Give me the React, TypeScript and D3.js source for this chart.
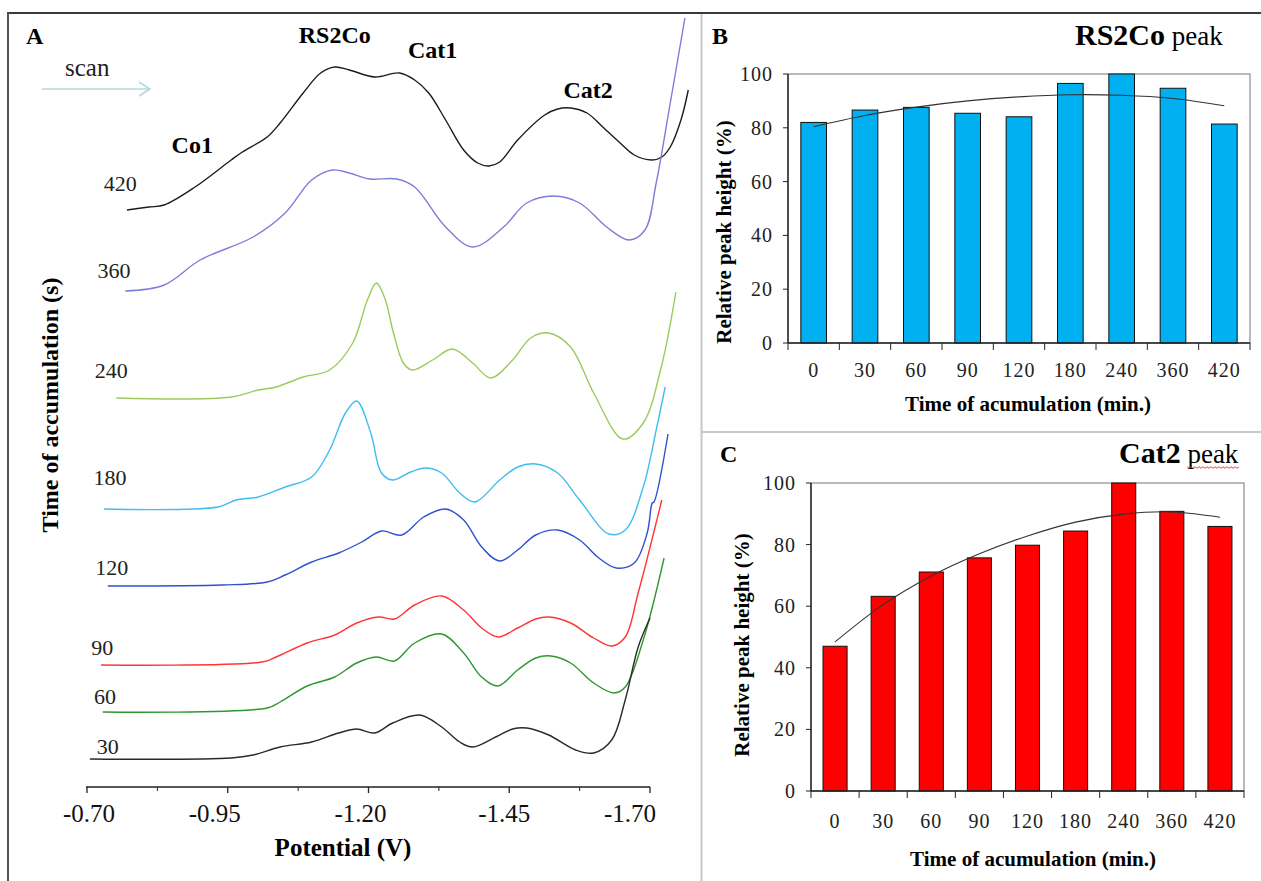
import * as d3 from "d3";
import { useEffect, useRef } from "react";

const W = 1261;
const H = 881;
const serif = "'Liberation Serif', 'Times New Roman', serif";

// ---- panel A: stripping voltammograms, potential (V) vs current (a.u., stacked)
const potentialTicks = [-0.7, -0.95, -1.2, -1.45, -1.7];
const tickLabelShift = [2, -13, -8, -5, -20]; // labels sit a bit off their ticks in the original
const curveTimes = ["420", "360", "240", "180", "120", "90", "60", "30"];
const curveColors = ["#1c1c1c", "#7d7dd8", "#9acb5c", "#3fbdf0", "#2f50d0", "#ff3535", "#2f972f", "#2a2a2a"];

const c420 = [[-0.771, 577], [-0.81, 580], [-0.837, 582], [-0.892, 600], [-0.956, 627], [-0.976, 635], [-1.02, 650], [-1.043, 664], [-1.084, 694], [-1.115, 714], [-1.14, 720], [-1.166, 717], [-1.211, 710], [-1.255, 714], [-1.282, 707], [-1.307, 694], [-1.337, 667], [-1.369, 637], [-1.394, 624], [-1.414, 621], [-1.433, 625], [-1.465, 647], [-1.513, 672], [-1.536, 678], [-1.559, 679], [-1.588, 674], [-1.616, 660], [-1.647, 644], [-1.672, 632], [-1.704, 627], [-1.721, 630], [-1.736, 640], [-1.755, 667], [-1.768, 697]];
const c360 = [[-0.768, 496], [-0.837, 502], [-0.901, 527], [-0.995, 550], [-1.052, 574], [-1.099, 607], [-1.136, 617], [-1.166, 614], [-1.202, 608], [-1.25, 608], [-1.282, 600], [-1.337, 560], [-1.385, 540], [-1.44, 560], [-1.481, 584], [-1.529, 591], [-1.575, 584], [-1.623, 560], [-1.663, 547], [-1.691, 557], [-1.711, 604], [-1.736, 684], [-1.762, 769]];
const c240 = [[-0.752, 389], [-0.956, 390], [-1.004, 397], [-1.036, 400], [-1.084, 410], [-1.131, 417], [-1.172, 444], [-1.198, 487], [-1.214, 504], [-1.23, 487], [-1.243, 457], [-1.262, 424], [-1.278, 417], [-1.314, 427], [-1.349, 438], [-1.385, 424], [-1.417, 409], [-1.456, 427], [-1.488, 449], [-1.52, 454], [-1.559, 440], [-1.6, 394], [-1.652, 348], [-1.688, 364], [-1.72, 420], [-1.746, 495]];
const c180 = [[-0.73, 278], [-0.933, 280], [-0.965, 287], [-1.004, 290], [-1.052, 300], [-1.099, 310], [-1.131, 337], [-1.159, 374], [-1.179, 386], [-1.204, 354], [-1.223, 314], [-1.243, 307], [-1.275, 315], [-1.301, 319], [-1.33, 314], [-1.362, 294], [-1.389, 285], [-1.433, 307], [-1.465, 320], [-1.497, 323], [-1.536, 314], [-1.575, 287], [-1.627, 253], [-1.656, 257], [-1.688, 300], [-1.711, 357], [-1.727, 400]];
const c120 = [[-0.737, 201], [-0.94, 202], [-1.02, 205], [-1.052, 212], [-1.099, 225], [-1.147, 234], [-1.188, 245], [-1.223, 256], [-1.259, 252], [-1.298, 270], [-1.337, 278], [-1.369, 267], [-1.401, 240], [-1.433, 226], [-1.465, 237], [-1.497, 252], [-1.536, 257], [-1.575, 247], [-1.607, 230], [-1.64, 219], [-1.672, 224], [-1.695, 254], [-1.704, 284], [-1.707, 285], [-1.732, 353]];
const c90 = [[-0.725, 122], [-1.011, 125], [-1.036, 130], [-1.091, 144], [-1.14, 152], [-1.179, 164], [-1.218, 170], [-1.246, 168], [-1.282, 182], [-1.33, 191], [-1.369, 177], [-1.401, 159], [-1.43, 150], [-1.465, 159], [-1.497, 168], [-1.52, 170], [-1.559, 164], [-1.6, 149], [-1.632, 141], [-1.656, 150], [-1.679, 194], [-1.721, 287]];
const c60 = [[-0.728, 75], [-1.02, 79], [-1.043, 85], [-1.091, 101], [-1.14, 110], [-1.179, 124], [-1.214, 130], [-1.246, 126], [-1.282, 144], [-1.33, 153], [-1.369, 134], [-1.401, 110], [-1.43, 101], [-1.465, 117], [-1.497, 129], [-1.524, 131], [-1.559, 124], [-1.6, 104], [-1.636, 94], [-1.656, 100], [-1.688, 147], [-1.725, 229]];
const c30 = [[-0.705, 28], [-0.956, 29], [-0.995, 32], [-1.043, 40], [-1.099, 45], [-1.147, 54], [-1.179, 58], [-1.211, 54], [-1.243, 64], [-1.291, 72], [-1.33, 60], [-1.362, 45], [-1.385, 40], [-1.426, 50], [-1.456, 58], [-1.481, 59], [-1.52, 52], [-1.568, 37], [-1.6, 34], [-1.632, 47], [-1.656, 87], [-1.679, 140], [-1.7, 169]];
const curves = [c420, c360, c240, c180, c120, c90, c60, c30];

// where each time label sits, in the same units as the curves
const timeLabelAt = [[-0.759, 596], [-0.748, 509], [-0.743, 409], [-0.741, 302], [-0.744, 212], [-0.727, 132], [-0.732, 83], [-0.737, 33]];
const peakNames = ["RS2Co", "Cat1", "Cat2", "Co1"];
const peakLabelAt = [[-1.14, 744], [-1.314, 729], [-1.59, 689], [-0.887, 634]];

// ---- panels B and C: relative peak heights vs accumulation time
const accTimes = ["0", "30", "60", "90", "120", "180", "240", "360", "420"];
const rs2coHeight = [82, 86.6, 87.6, 85.4, 84.1, 96.5, 100, 94.7, 81.4];
const rs2coTrend = [80.4, 84.6, 87.7, 90.0, 91.5, 92.3, 92.1, 90.9, 88.2];
const cat2Height = [47.0, 63.2, 71.1, 75.7, 79.8, 84.4, 100, 90.8, 85.9];
const cat2Trend = [48.4, 60.5, 69.8, 77.0, 82.8, 87.3, 89.9, 90.6, 88.9];
const pctTicks = [0, 20, 40, 60, 80, 100];

const drawBarPanel = (svg, o) => {
  const x = d3.scaleBand().domain(accTimes).range([o.x0, o.x1]).paddingInner(0.5).paddingOuter(0.25);
  const y = d3.scaleLinear().domain([0, 100]).range([o.y0, o.y1]);
  const g = svg.append("g");

  // grey plot frame
  g.append("rect")
    .attr("x", o.x0).attr("y", o.y1)
    .attr("width", o.x1 - o.x0).attr("height", o.y0 - o.y1)
    .attr("fill", "none").attr("stroke", "#8c8c8c").attr("stroke-width", 1.2);

  g.selectAll("rect.bar")
    .data(o.values)
    .join("rect")
    .attr("class", "bar")
    .attr("x", (d, i) => x(accTimes[i]))
    .attr("y", (d) => y(d))
    .attr("width", x.bandwidth())
    .attr("height", (d) => o.y0 - y(d))
    .attr("fill", o.color)
    .attr("stroke", "#111")
    .attr("stroke-width", 1);

  const trend = d3.line()
    .x((d, i) => x(accTimes[i]) + x.bandwidth() / 2)
    .y((d) => y(d))
    .curve(d3.curveCatmullRom.alpha(0.5));
  g.append("path").attr("d", trend(o.trend)).attr("fill", "none").attr("stroke", "#333").attr("stroke-width", 1.1);

  // axes
  g.append("line").attr("x1", o.x0).attr("x2", o.x0).attr("y1", o.y1).attr("y2", o.y0).attr("stroke", "#222").attr("stroke-width", 1.4);
  g.append("line").attr("x1", o.x0).attr("x2", o.x1).attr("y1", o.y0).attr("y2", o.y0).attr("stroke", "#222").attr("stroke-width", 1.4);

  pctTicks.forEach((t) => {
    g.append("line").attr("x1", o.x0 - 5).attr("x2", o.x0).attr("y1", y(t)).attr("y2", y(t)).attr("stroke", "#222");
    g.append("text")
      .attr("x", o.x0 - 15).attr("y", y(t)).attr("dy", "0.35em")
      .attr("text-anchor", "end")
      .style("font-family", serif).style("font-size", "20px").style("letter-spacing", "1px")
      .attr("fill", "#222")
      .text(t);
  });

  const step = x.step();
  d3.range(accTimes.length + 1).forEach((i) => {
    const bx = o.x0 + i * step;
    g.append("line").attr("x1", bx).attr("x2", bx).attr("y1", o.y0).attr("y2", o.y0 + 7).attr("stroke", "#222");
  });
  accTimes.forEach((c) => {
    g.append("text")
      .attr("x", x(c) + x.bandwidth() / 2).attr("y", o.xLabelY)
      .attr("text-anchor", "middle")
      .style("font-family", serif).style("font-size", "20px").style("letter-spacing", "1px")
      .attr("fill", "#222")
      .text(c);
  });

  g.append("text")
    .attr("x", o.xTitle[0]).attr("y", o.xTitle[1])
    .attr("text-anchor", "middle")
    .style("font-family", serif).style("font-size", "21px").style("font-weight", "bold")
    .text("Time of acumulation (min.)");
  g.append("text")
    .attr("transform", `translate(${o.yTitle[0]},${o.yTitle[1]}) rotate(-90)`)
    .attr("text-anchor", "middle")
    .style("font-family", serif).style("font-size", "21px").style("font-weight", "bold")
    .text("Relative peak height (%)");

  // panel letter and title
  g.append("text")
    .attr("x", o.letter[0]).attr("y", o.letter[1])
    .style("font-family", serif).style("font-size", "24px").style("font-weight", "bold")
    .text(o.letterText);
  const title = g.append("text")
    .attr("x", o.title[0]).attr("y", o.title[1])
    .style("font-family", serif);
  title.append("tspan").style("font-size", "30px").style("font-weight", "bold").text(o.titleText);
  title.append("tspan").style("font-size", "27px").text(" peak");
};

const App = () => {
  const svgRef = useRef(null);

  useEffect(() => {
    const svg = d3.select(svgRef.current);
    svg.selectAll("*").remove();

    // figure frame and dividers
    svg.append("rect").attr("width", W).attr("height", H).attr("fill", "white");
    svg.append("line").attr("x1", 7).attr("x2", W).attr("y1", 13).attr("y2", 13).attr("stroke", "#3a3a3a").attr("stroke-width", 2);
    svg.append("line").attr("x1", 8).attr("x2", 8).attr("y1", 13).attr("y2", H).attr("stroke", "#555").attr("stroke-width", 2);
    svg.append("line").attr("x1", 701.5).attr("x2", 701.5).attr("y1", 14).attr("y2", H).attr("stroke", "#c8c8c8").attr("stroke-width", 2);
    svg.append("line").attr("x1", 702).attr("x2", W).attr("y1", 432).attr("y2", 432).attr("stroke", "#c8c8c8").attr("stroke-width", 2);

    // ---------- panel A
    const xA = d3.scaleLinear().domain([-0.7, -1.7]).range([87, 650]);
    const yA = d3.scaleLinear().domain([0, 775]).range([787, 12]);
    const gA = svg.append("g");

    const line = d3.line()
      .x((d) => xA(d[0]))
      .y((d) => yA(d[1]))
      .curve(d3.curveCatmullRom.alpha(0.5));

    gA.selectAll("path.curve")
      .data(curves)
      .join("path")
      .attr("class", "curve")
      .attr("d", (d) => line(d))
      .attr("fill", "none")
      .attr("stroke", (d, i) => curveColors[i])
      .attr("stroke-width", 1.4);

    gA.selectAll("text.time")
      .data(curveTimes)
      .join("text")
      .attr("class", "time")
      .attr("x", (d, i) => xA(timeLabelAt[i][0]))
      .attr("y", (d, i) => yA(timeLabelAt[i][1]))
      .attr("text-anchor", "middle")
      .style("font-family", serif).style("font-size", "22px")
      .attr("fill", "#222")
      .text((d) => d);

    gA.selectAll("text.peak")
      .data(peakNames)
      .join("text")
      .attr("class", "peak")
      .attr("x", (d, i) => xA(peakLabelAt[i][0]))
      .attr("y", (d, i) => yA(peakLabelAt[i][1]))
      .attr("text-anchor", "middle")
      .style("font-family", serif).style("font-size", "24px").style("font-weight", "bold")
      .text((d) => d);

    // x axis
    gA.append("line").attr("x1", xA(-0.7) - 1).attr("x2", xA(-1.7)).attr("y1", 787).attr("y2", 787).attr("stroke", "#222").attr("stroke-width", 1.5);
    potentialTicks.forEach((t, i) => {
      gA.append("line").attr("x1", xA(t)).attr("x2", xA(t)).attr("y1", 787).attr("y2", 793).attr("stroke", "#222").attr("stroke-width", 1.3);
      if (i < potentialTicks.length - 1) {
        const m = (t + potentialTicks[i + 1]) / 2;
        gA.append("line").attr("x1", xA(m)).attr("x2", xA(m)).attr("y1", 787).attr("y2", 791).attr("stroke", "#222");
      }
      gA.append("text")
        .attr("x", xA(t) + tickLabelShift[i]).attr("y", 822)
        .attr("text-anchor", "middle")
        .style("font-family", serif).style("font-size", "25px")
        .attr("fill", "#111")
        .text(t.toFixed(2));
    });
    gA.append("text")
      .attr("x", 343).attr("y", 856)
      .attr("text-anchor", "middle")
      .style("font-family", serif).style("font-size", "25px").style("font-weight", "bold")
      .text("Potential (V)");
    gA.append("text")
      .attr("transform", "translate(58,405) rotate(-90)")
      .attr("text-anchor", "middle")
      .style("font-family", serif).style("font-size", "24px").style("font-weight", "bold")
      .text("Time of accumulation (s)");

    gA.append("text").attr("x", 26).attr("y", 44)
      .style("font-family", serif).style("font-size", "24px").style("font-weight", "bold")
      .text("A");
    gA.append("text").attr("x", 65).attr("y", 76)
      .style("font-family", serif).style("font-size", "25px")
      .attr("fill", "#222")
      .text("scan");
    gA.append("line").attr("x1", 42).attr("x2", 150).attr("y1", 89).attr("y2", 89).attr("stroke", "#b2d9dd").attr("stroke-width", 1.5);
    gA.append("path").attr("d", "M139,82 L150,89 L139,96").attr("fill", "none").attr("stroke", "#b2d9dd").attr("stroke-width", 1.5);

    // ---------- panels B and C
    drawBarPanel(svg, {
      x0: 788, x1: 1250, y0: 343, y1: 74,
      values: rs2coHeight, trend: rs2coTrend, color: "#00b0f0",
      xLabelY: 377, xTitle: [1028, 411], yTitle: [731, 232],
      letter: [712, 44], letterText: "B",
      title: [1075, 45], titleText: "RS2Co",
    });
    drawBarPanel(svg, {
      x0: 811, x1: 1244, y0: 791, y1: 483,
      values: cat2Height, trend: cat2Trend, color: "#ff0000",
      xLabelY: 828, xTitle: [1033, 866], yTitle: [749, 645],
      letter: [720, 462], letterText: "C",
      title: [1119, 463], titleText: "Cat2",
    });

    // spell-check squiggle under "peak" in panel C
    const sq = d3.range(1187, 1240, 2).map((px, i) => [px, 467 + (i % 2 ? 1.3 : -0.3)]);
    svg.append("path").attr("d", d3.line()(sq)).attr("fill", "none").attr("stroke", "#e53030").attr("stroke-width", 0.9);
  }, []);

  return (
    <div style={{ position: "absolute", left: 0, top: 0 }}>
      <svg ref={svgRef} width={W} height={H} />
    </div>
  );
};

export default App;
